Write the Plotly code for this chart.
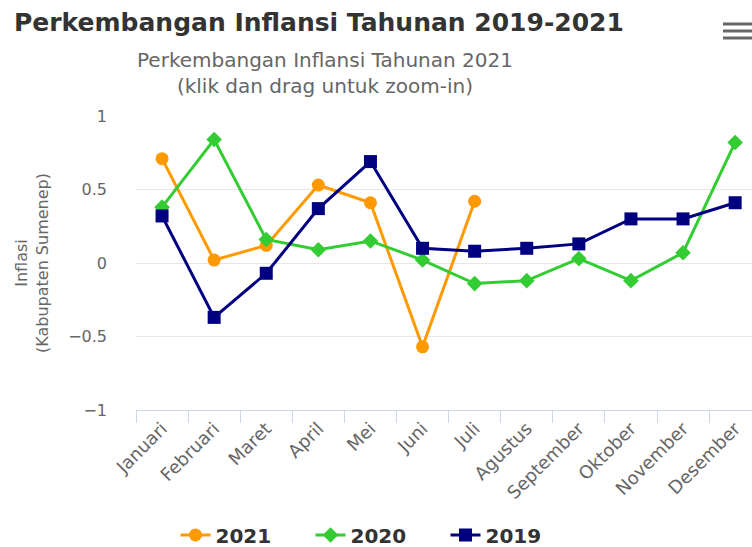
import plotly.graph_objects as go

months = ["Januari", "Februari", "Maret", "April", "Mei", "Juni", "Juli",
          "Agustus", "September", "Oktober", "November", "Desember"]
inf_2021 = [0.71, 0.02, 0.12, 0.53, 0.41, -0.57, 0.42]
inf_2020 = [0.38, 0.84, 0.16, 0.09, 0.15, 0.02, -0.14, -0.12, 0.03, -0.12, 0.07, 0.82]
inf_2019 = [0.32, -0.37, -0.07, 0.37, 0.69, 0.10, 0.08, 0.10, 0.13, 0.30, 0.30, 0.41]

W, H = 752, 547
L, T, B = 136, 116, 137
plot_w = W - L
plot_h = H - T - B
cat_w = 52.1

FONT = "DejaVu Sans"

fig = go.Figure()
fig.add_trace(go.Scatter(x=months[:len(inf_2021)], y=inf_2021, name="<b>2021</b>", mode="lines+markers",
                         line=dict(color="#FF9900", width=3),
                         marker=dict(symbol="circle", size=13, color="#FF9900")))
fig.add_trace(go.Scatter(x=months, y=inf_2020, name="<b>2020</b>", mode="lines+markers",
                         line=dict(color="#33CC33", width=3),
                         marker=dict(symbol="diamond", size=12, color="#33CC33")))
fig.add_trace(go.Scatter(x=months, y=inf_2019, name="<b>2019</b>", mode="lines+markers",
                         line=dict(color="#000080", width=3),
                         marker=dict(symbol="square", size=13, color="#000080")))

fig.update_layout(
    width=W, height=H,
    margin=dict(l=L, r=0, t=T, b=B, autoexpand=False),
    paper_bgcolor="white", plot_bgcolor="white",
    font=dict(family=FONT, color="#666666"),
    title=dict(text="<b>Perkembangan Inflansi Tahunan 2019-2021</b>",
               x=14 / W, xref="container", xanchor="left",
               y=1 - 22 / H, yref="container", yanchor="middle",
               font=dict(family=FONT, size=25, color="#333333")),
    xaxis=dict(type="category", categoryorder="array", categoryarray=months,
               range=[-0.5, -0.5 + plot_w / cat_w],
               showgrid=False, showline=True, linecolor="#ccd6eb", linewidth=1,
               ticks="outside", tickson="boundaries", ticklen=12, tickcolor="#ccd6eb",
               tickangle=-45, tickfont=dict(family=FONT, size=18, color="#666666"),
               zeroline=False, fixedrange=True, automargin=False),
    yaxis=dict(range=[-1, 1], dtick=0.5, tick0=0, showgrid=True, gridcolor="#e6e6e6",
               gridwidth=1, zeroline=False, showline=False, ticks="",
               ticklabelstandoff=28, automargin=False,
               tickfont=dict(family=FONT, size=16, color="#666666"), fixedrange=True),
    showlegend=True,
    legend=dict(orientation="h", x=(378 - L) / plot_w, xanchor="center",
                y=(plot_h - (535 - T)) / plot_h, yanchor="middle",
                font=dict(family=FONT, size=20, color="#333333"),
                entrywidth=90, entrywidthmode="pixels", itemwidth=30,
                bgcolor="rgba(0,0,0,0)"),
)

fig.add_annotation(text="Perkembangan Inflansi Tahunan 2021<br>(klik dan drag untuk zoom-in)",
                   xref="paper", yref="paper", x=(325 - L) / plot_w, y=(plot_h - (73 - T)) / plot_h,
                   xanchor="center", yanchor="middle", showarrow=False, align="center",
                   font=dict(family=FONT, size=20, color="#666666"))

fig.add_annotation(text="Inflasi<br>(Kabupaten Sumenep)", textangle=-90,
                   xref="paper", yref="paper", x=(32 - L) / plot_w, y=(plot_h - (263 - T)) / plot_h,
                   xanchor="center", yanchor="middle", showarrow=False, align="center",
                   font=dict(family=FONT, size=16, color="#666666"))

# menu (hamburger) icon
for yy in (24, 31, 38):
    fig.add_shape(type="line", xref="paper", yref="paper",
                  x0=(723 - L) / plot_w, x1=(752 - L) / plot_w,
                  y0=(plot_h - (yy - T)) / plot_h, y1=(plot_h - (yy - T)) / plot_h,
                  line=dict(color="#666666", width=3))

fig.write_html("out.html", config={"displayModeBar": False},
               post_script="document.body.style.margin='0';document.body.style.overflow='hidden';")
